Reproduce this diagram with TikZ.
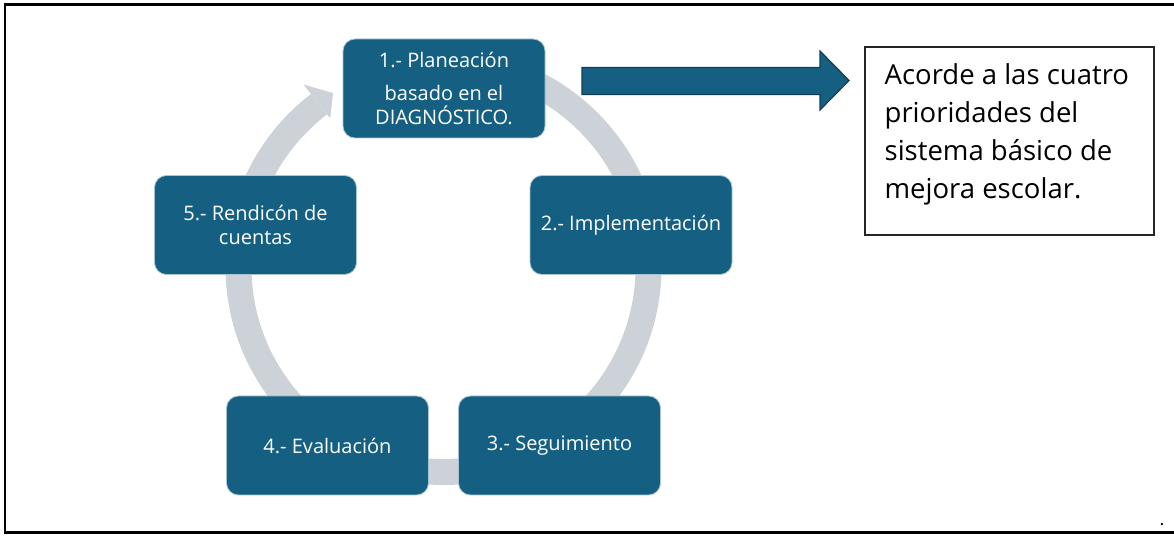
\documentclass[tikz,border=0pt]{standalone}
\usepackage{fontspec}
\setmainfont{Open Sans}
\usetikzlibrary{calc}
\definecolor{stepblue}{HTML}{156082}
\definecolor{boxedge}{HTML}{A8C4D3}
\definecolor{ringgray}{HTML}{CDD2D9}
\definecolor{arrowedge}{HTML}{0E3F56}
\begin{document}
\begin{tikzpicture}[x=1pt,y=1pt,
  cyclebox/.style={rectangle, rounded corners=12pt, fill=stepblue, draw=boxedge,
    line width=0.8pt, minimum width=202pt, minimum height=99pt, inner sep=0pt,
    text=white, align=center, font=\fontsize{20}{23.5}\selectfont},
  ringband/.style={draw=ringgray, line width=26pt},
  notebox/.style={rectangle, draw=black!85, line width=1.1pt, minimum width=289pt,
    minimum height=188pt, inner sep=0pt},
  notetext/.style={align=left, inner sep=0pt, font=\fontsize{27.5}{38}\selectfont},
  blockarrow/.style={fill=stepblue, draw=arrowedge, line width=1.2pt, line join=miter}]
\useasboundingbox (0,0) rectangle (1174,535);
\clip (0,0) rectangle (1174,535);

% outer frame (open on the right)
\draw[line width=2.4pt] (1180,530.3) -- (4.7,530.3) -- (4.7,2.4) -- (1180,2.4);

% cycle ring with the arrowhead pointing into step 1
\coordinate (hub) at (443.5,268);
\draw[ringband] ($(hub)+(90:205)$) arc[start angle=90, end angle=-232.6, radius=205];
\fill[ringgray] ($(hub)+(127.5:230)$) -- ($(hub)+(122.4:206)$) -- ($(hub)+(127.3:187)$) -- cycle;

% the five steps
\node[cyclebox] (plan) at (444,446.5) {1.- Planeación\\[9.5pt]basado en el\\DIAGNÓSTICO.};
\node[cyclebox] (impl) at (631,310) {2.- Implementación};
\node[cyclebox] (segu) at (559.5,89.5) {3.- Seguimiento};
\node[cyclebox] (eval) at (327.5,89.5) {4.- Evaluación};
\node[cyclebox] (rend) at (255.5,310) {5.- Rendicón de\\cuentas};

% note box and the block arrow pointing to it
\node[notebox] (note) at (1009.5,394) {};
\node[notetext, anchor=base west] (notetxt) at ($(note.north west)+(20,-152)$)
  {Acorde a las cuatro\\prioridades del\\sistema básico de\\mejora escolar.};
\draw[blockarrow] (582,467.5) -- (820,467.5) -- (820,484) -- (849,454.5)
  -- (820,425) -- (820,440.5) -- (582,440.5) -- cycle;

\node[anchor=base, inner sep=0pt, font=\fontsize{18}{18}\selectfont] (dot) at (1162,10) {.};
\end{tikzpicture}
\end{document}
